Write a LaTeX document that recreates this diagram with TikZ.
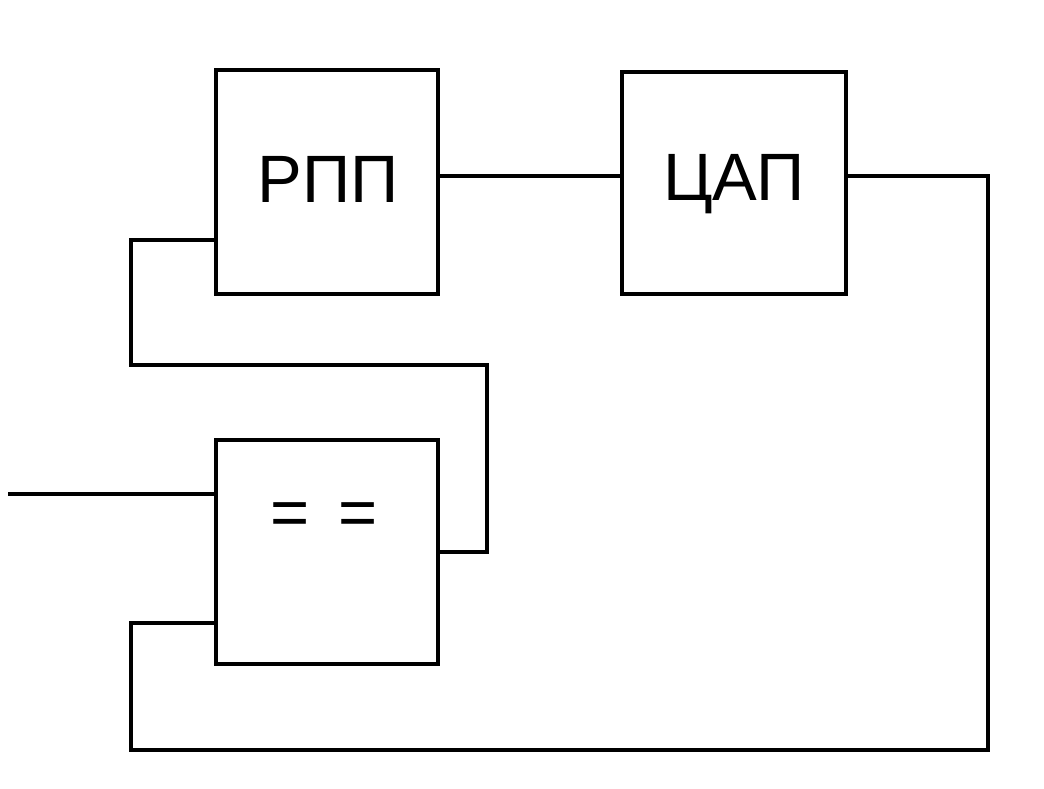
\documentclass[tikz,border=0pt]{standalone}
\usepackage{fontspec}
\setmainfont{Liberation Sans}
\begin{document}
\begin{tikzpicture}[x=1pt,y=-1pt,
  blk/.style={draw,line width=4pt,inner sep=0pt,outer sep=0pt},
  wire/.style={line width=4pt},
  lbl/.style={inner sep=0pt,anchor=base,font=\fontsize{67}{70}\selectfont}]
\useasboundingbox (0,0) rectangle (1044,789);
\node[blk,minimum width=222pt,minimum height=224pt] (rpp) at (327,182) {};
\node[blk,minimum width=224pt,minimum height=222pt] (dac) at (734,183) {};
\node[blk,minimum width=222pt,minimum height=224pt] (cmp) at (327,552) {};
\node[lbl] (rpptxt) at (328,202) {РПП};
\node[lbl] (dactxt) at (734,200) {ЦАП};
\node[lbl] (cmptxt) at (324,535) {=\hspace{29pt}=};
\coordinate (in) at (8,494);
\draw[wire] (rpp.east |- 0,176) -- (dac.west |- 0,176);
\draw[wire] (dac.east |- 0,176) -- (988,176) -- (988,750) -- (131,750) -- (131,623) -- (cmp.west |- 0,623);
\draw[wire] (rpp.west |- 0,240) -- (131,240) -- (131,365) -- (487,365) -- (487,552) -- (cmp.east |- 0,552);
\draw[wire] (in) -- (cmp.west |- in);
\end{tikzpicture}
\end{document}
